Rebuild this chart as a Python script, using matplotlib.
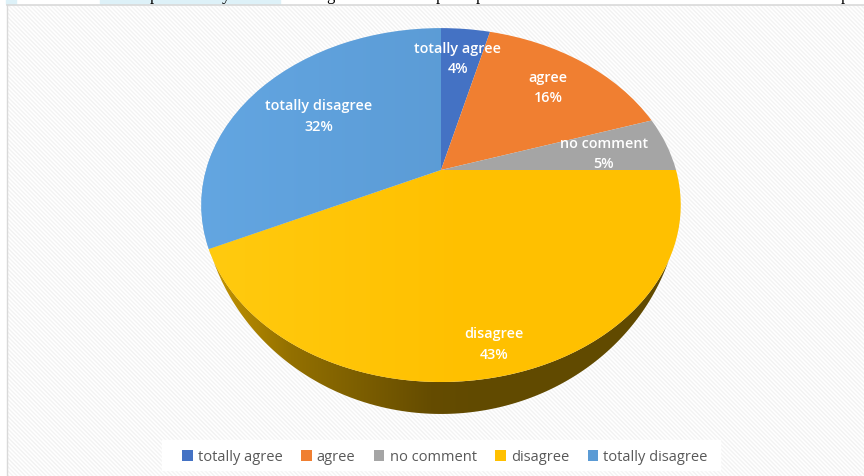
"""Survey answers as a tilted pie with a shaded rim, drawn on a hatched panel."""

import matplotlib

matplotlib.use("Agg")
import matplotlib.pyplot as plt
import numpy as np
from matplotlib.patches import Patch, Polygon, Rectangle
from matplotlib.transforms import Transform

CATEGORIES = ["totally agree", "agree", "no comment", "disagree", "totally disagree"]
SHARES = [4, 16, 5, 43, 32]
COLORS = ["#4472C4", "#F07F31", "#A5A5A5", "#FFC000", "#5B9BD5"]

WIDTH, HEIGHT = 864, 477

# tilt of the pie, in pixels
APEX_X, APEX_Y = 441, 171
SCALE_X, SCALE_Y = 235, 170
TILT = 0.198
RIM_CENTRE_Y, RIM_RADIUS_Y = 206, 177
FOOT_CENTRE_Y, FOOT_RADIUS_Y = 191.5, 223.5

LABEL_XY = [(458, 59), (548, 88), (604, 154), (494, 344.5), (319, 116.5)]
HEADER_LETTERS = [(154, "p"), (226, "y"), (330, "g"), (440, "p"), (480, "p"), (845, "p")]


class Tilt(Transform):
    """Projects the unit circle of the pie onto the tilted disc."""

    input_dims = output_dims = 2
    is_separable = False

    def transform_non_affine(self, values):
        values = np.asarray(values, dtype=float)
        w = 1 + TILT * values[:, 1]
        return np.column_stack(
            [APEX_X + SCALE_X * values[:, 0] / w, APEX_Y - SCALE_Y * values[:, 1] / w]
        )


def ramp(stops):
    xs, cols = zip(*stops)
    grid = np.arange(WIDTH)
    rgba = np.array([matplotlib.colors.to_rgba(c) for c in cols])
    return np.stack([np.interp(grid, xs, rgba[:, i]) for i in range(4)], axis=1)[None, :, :]


fig = plt.figure(figsize=(WIDTH / 100, HEIGHT / 100), dpi=100)
ax = fig.add_axes([0, 0, 1, 1])

wedges, _ = ax.pie(
    SHARES, colors=COLORS, startangle=90, counterclock=False, radius=1, center=(0, 0)
)
ax.set_aspect("auto")
ax.set_xlim(0, WIDTH)
ax.set_ylim(HEIGHT, 0)
ax.axis("off")
full = (0, WIDTH, HEIGHT, 0)

# hatched panel
yy, xx = np.mgrid[0:HEIGHT, 0:WIDTH]
stripes = 0.975 + 0.025 * np.cos(2 * np.pi * (xx - yy) / 4.2)
ax.imshow(stripes, cmap="gray", vmin=0, vmax=1, extent=full, aspect="auto", zorder=0)

# page above the panel
ax.add_patch(Rectangle((0, 0), WIDTH, 5, color="white", zorder=1))
ax.add_patch(Rectangle((0, 0), 6, HEIGHT, color="white", zorder=1))
ax.add_patch(Rectangle((100, 0), 180, 5, color="#DDF1F8", zorder=1.1))
ax.add_patch(Rectangle((6, 0), 10, 5, color="#DDF1F8", zorder=1.1))
ax.plot([7, WIDTH], [5.5, 5.5], color="#D9D9D9", lw=1.2, zorder=1.2)
ax.plot([7, 7], [5.5, HEIGHT], color="#D9D9D9", lw=1.0, zorder=1.2)
for x, letter in HEADER_LETTERS:
    ax.text(x, -0.5, letter, family="Liberation Serif", fontsize=12, color="black",
            ha="center", va="baseline", zorder=1.3)

# rim under the disagree slice, only where the foot drops below the disc edge
tilt = Tilt()
start = 2 * np.pi * sum(SHARES[:3]) / 100
end = 2 * np.pi * sum(SHARES[:4]) / 100
theta = np.linspace(start, end, 300)
rim = tilt.transform(np.column_stack([np.sin(theta), np.cos(theta)]))
foot = rim.copy()
foot[:, 1] = FOOT_CENTRE_Y + (rim[:, 1] - RIM_CENTRE_Y) * FOOT_RADIUS_Y / RIM_RADIUS_Y
below = foot[:, 1] >= rim[:, 1]
side = Polygon(np.vstack([rim[below], foot[below][::-1]]), closed=True,
               facecolor="none", edgecolor="none")
ax.add_patch(side)
shade = ax.imshow(
    ramp([(205, "#C99800"), (290, "#937000"), (430, "#654C00"), (480, "#614A00"), (700, "#614A00")]),
    extent=full, aspect="auto", zorder=2,
)
shade.set_clip_path(side)

# slices, with a soft highlight towards the lower left
for wedge, color in zip(wedges, COLORS):
    wedge.set_transform(tilt + ax.transData)
    wedge.set_zorder(3)
    wedge.set_edgecolor("none")
for wedge, glow in zip(wedges[3:], ["#FFD21A", "#68ADEA"]):
    glaze = ramp([(200, glow), (470, matplotlib.colors.to_rgba(glow, 0))])
    light = ax.imshow(glaze, extent=full, aspect="auto", zorder=3.5, alpha=0.6)
    light.set_clip_path(wedge)

for (x, y), name, share in zip(LABEL_XY, CATEGORIES, SHARES):
    ax.text(x, y, f"{name}\n{share}%", color="white", family="Open Sans", weight="semibold",
            fontsize=10.4, ha="center", va="center", linespacing=1.6, zorder=5)

# legend strip
ax.add_patch(Rectangle((162, 441), 558, 30, color="white", zorder=4))
handles = [Patch(facecolor=c, edgecolor="none") for c in COLORS]
ax.legend(
    handles, CATEGORIES, loc="center", bbox_to_anchor=(445, 458),
    bbox_transform=ax.transData, ncol=5, frameon=False,
    labelcolor="#595959", prop={"family": "Open Sans", "size": 10.5},
    handlelength=0.7, handleheight=0.7, handletextpad=0.35, columnspacing=1.3,
).set_zorder(6)

fig.savefig("out.png", dpi=100)
